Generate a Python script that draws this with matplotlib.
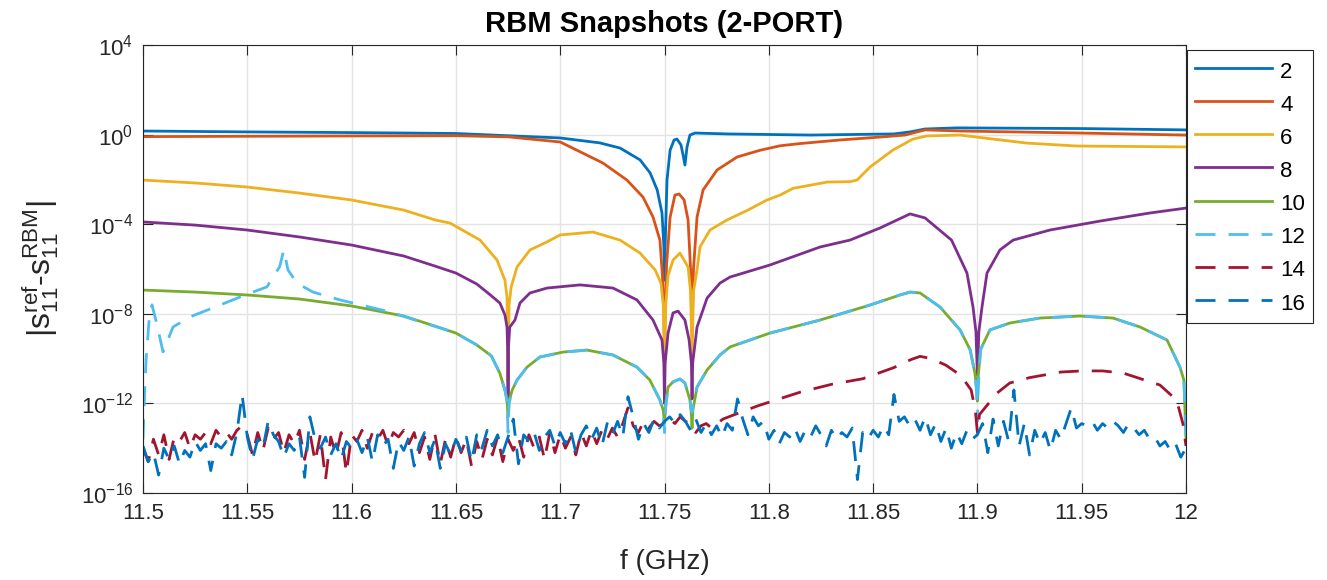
import numpy as np
import matplotlib
matplotlib.use("Agg")
import matplotlib.pyplot as plt
from matplotlib.ticker import NullLocator

plt.rcParams['font.family'] = ['Liberation Sans', 'DejaVu Sans']
plt.rcParams['mathtext.default'] = 'regular'
plt.rcParams['lines.scale_dashes'] = False

# ---------------------------------------------------------------- data
# frequencies in GHz, errors given as log10(|s11_ref - s11_RBM|)
f2 = [11.5, 11.55, 11.6, 11.65, 11.7, 11.719, 11.7287, 11.7383, 11.7431, 11.7465,
      11.7488, 11.7497, 11.75, 11.7503, 11.7512, 11.7527, 11.7546, 11.756, 11.7579,
      11.7589, 11.7598, 11.7608, 11.7622, 11.7646, 11.78, 11.82, 11.86, 11.8677,
      11.8749, 11.89, 11.95, 12.0]
e2 = [0.16, 0.12, 0.09, 0.05, -0.15, -0.37, -0.60, -1.13, -1.71, -2.47,
      -3.5, -5.0, -6.5, -5.0, -2.03, -0.69, -0.24, -0.20, -0.46,
      -0.91, -1.36, -0.55, -0.02, 0.07, 0.03, -0.02, 0.03, 0.12,
      0.25, 0.30, 0.27, 0.21]

f4 = [11.5, 11.6, 11.65, 11.675, 11.7, 11.7205, 11.732, 11.7397, 11.7445, 11.7478,
      11.749, 11.7497, 11.75, 11.7503, 11.751, 11.7527, 11.755, 11.757, 11.7594,
      11.7613, 11.7625, 11.7632, 11.7639, 11.7656, 11.7685, 11.7752, 11.7848,
      11.7958, 11.8054, 11.815, 11.8341, 11.8533, 11.8653, 11.8749, 11.8917,
      11.9492, 12.0]
e4 = [-0.09, -0.06, -0.05, -0.10, -0.33, -1.27, -2.03, -2.79, -3.68, -4.71,
      -6.3, -8.0, -9.5, -8.0, -5.8, -3.68, -2.70, -2.65, -2.92,
      -3.81, -6.0, -9.0, -6.0, -3.68, -2.47, -1.58, -1.0,
      -0.7, -0.5, -0.40, -0.24, -0.11, -0.02, 0.21, 0.16,
      0.07, -0.02]

f6 = [11.5, 11.525, 11.55, 11.575, 11.6, 11.625, 11.64, 11.6472, 11.6616, 11.6697,
      11.6735, 11.6745, 11.675, 11.6755, 11.6765, 11.6793, 11.6855, 11.6937, 11.7,
      11.7157, 11.7287, 11.7383, 11.7455, 11.7483, 11.7494, 11.75, 11.7506, 11.7517,
      11.7541, 11.7574, 11.7613, 11.7625, 11.7632, 11.7639, 11.7656, 11.767, 11.7718,
      11.78, 11.79, 11.7991, 11.8054, 11.8116, 11.8279, 11.8389, 11.8423, 11.8485,
      11.8595, 11.8691, 11.8758, 11.8917, 11.9075, 11.9238, 11.9478, 12.0]
e6 = [-2.03, -2.16, -2.34, -2.61, -2.92, -3.37, -3.81, -3.95, -4.71, -5.6,
      -6.5, -7.25, -11.0, -7.6, -6.8, -5.91, -5.15, -4.79, -4.48,
      -4.35, -4.71, -5.29, -6.04, -6.63, -7.6, -10.5, -7.6, -6.3,
      -5.6, -5.29, -5.91, -7.0, -10.0, -7.0, -6.04, -5.02, -4.26,
      -3.81, -3.37, -2.92, -2.70, -2.40, -2.12, -2.10, -2.03, -1.45,
      -0.69, -0.2, -0.06, -0.02, -0.2, -0.38, -0.51, -0.55]

f8 = [11.5, 11.525, 11.55, 11.575, 11.6, 11.625, 11.64, 11.65, 11.66, 11.666,
      11.6711, 11.6735, 11.6745, 11.6748, 11.675, 11.6752, 11.6758, 11.6783, 11.6807, 11.6855,
      11.6937, 11.7095, 11.7253, 11.7368, 11.7445, 11.7488, 11.7497, 11.75, 11.7503, 11.7517,
      11.7541, 11.7565, 11.7598, 11.7618, 11.7629, 11.7632, 11.7635, 11.7656, 11.7704, 11.7766,
      11.7814, 11.8006, 11.8245, 11.8389, 11.8533, 11.8677, 11.8749, 11.8876, 11.895, 11.8979,
      11.8993, 11.9, 11.9007, 11.9022, 11.9046, 11.9108, 11.9171, 11.9348, 11.9588, 11.9827,
      12.0]
e8 = [-3.90, -4.04, -4.26, -4.57, -4.93, -5.42, -5.87, -6.18, -6.67, -7.12,
      -7.52, -8.05, -8.59, -9.5, -12.0, -9.5, -8.6, -8.28, -7.52, -7.07,
      -6.85, -6.71, -6.85, -7.38, -8.28, -9.17, -10.2, -12.0, -10.2, -8.86,
      -7.96, -7.88, -8.28, -9.17, -10.2, -11.8, -10.2, -8.59, -7.30, -6.63,
      -6.36, -5.82, -5.02, -4.71, -4.17, -3.54, -3.72, -4.71, -6.18, -7.70,
      -8.8, -10.73, -8.8, -7.70, -6.18, -5.15, -4.71, -4.26, -3.86, -3.50,
      -3.28]

f10 = [11.5, 11.525, 11.55, 11.575, 11.6, 11.625, 11.64, 11.65, 11.66, 11.667,
       11.671, 11.6735, 11.6745, 11.675, 11.6755, 11.677, 11.6793, 11.6841, 11.6903, 11.7013,
       11.7128, 11.7253, 11.7368, 11.743, 11.7478, 11.7494, 11.75, 11.7506, 11.7517, 11.7541,
       11.7574, 11.7598, 11.7622, 11.7628, 11.7632, 11.7636, 11.7656, 11.7704, 11.7766, 11.7814,
       11.8006, 11.8245, 11.8485, 11.8629, 11.8677, 11.8725, 11.8821, 11.8917, 11.8965, 11.8988,
       11.8996, 11.9, 11.9004, 11.9015, 11.906, 11.9156, 11.93, 11.9492, 11.965, 11.978,
       11.9909, 11.9971, 11.999, 12.0]
e10 = [-6.94, -7.03, -7.16, -7.34, -7.65, -8.10, -8.55, -8.86, -9.39, -9.88,
       -10.64, -11.40, -11.85, -12.6, -11.9, -11.4, -10.96, -10.38, -9.93, -9.71,
       -9.62, -9.84, -10.38, -10.96, -11.85, -12.3, -12.9, -12.0, -11.27, -11.04,
       -10.91, -11.09, -11.85, -12.4, -13.1, -12.3, -11.27, -10.51, -9.84, -9.48,
       -8.86, -8.28, -7.61, -7.16, -7.03, -7.07, -7.70, -8.72, -9.6, -10.64,
       -11.3, -11.9, -10.8, -9.6, -8.72, -8.41, -8.19, -8.10, -8.19, -8.59,
       -9.17, -10.38, -10.96, -13.6]

f12 = [11.5, 11.5008, 11.5015, 11.503, 11.5043, 11.5065, 11.5096, 11.5144, 11.5225, 11.5369,
       11.5489, 11.5594, 11.5655, 11.5675, 11.5695, 11.5738, 11.5815, 11.5944, 11.6184, 11.6424,
       11.65, 11.66, 11.667, 11.671, 11.6735, 11.6745, 11.675, 11.6755, 11.677, 11.6793,
       11.6841, 11.6903, 11.7013, 11.7128, 11.7253, 11.7368, 11.743, 11.7478, 11.7494, 11.75,
       11.7506, 11.7517, 11.7541, 11.7574, 11.7598, 11.7622, 11.7628, 11.7632, 11.7636, 11.7656,
       11.7704, 11.7766, 11.7814, 11.8006, 11.8245, 11.8485, 11.8629, 11.8677, 11.8725, 11.8821,
       11.8917, 11.8965, 11.8988, 11.8996, 11.9, 11.9004, 11.9015, 11.906, 11.9156, 11.93,
       11.9492, 11.965, 11.978, 11.9909, 11.9971, 11.999, 12.0]
e12 = [-13.6, -11.5, -10.0, -8.2, -7.6, -8.41, -9.7, -8.59, -8.14, -7.61,
       -7.16, -6.8, -5.9, -5.15, -6.04, -6.63, -7.03, -7.38, -7.92, -8.63,
       -8.86, -9.39, -9.88, -10.64, -11.40, -11.9, -13.3, -12.0, -11.4, -10.96,
       -10.38, -9.93, -9.71, -9.62, -9.84, -10.38, -10.96, -11.85, -12.4, -13.3,
       -12.2, -11.27, -11.04, -10.91, -11.09, -11.85, -12.2, -12.4, -12.1, -11.27,
       -10.51, -9.84, -9.48, -8.86, -8.28, -7.61, -7.16, -7.03, -7.07, -7.70,
       -8.72, -9.6, -10.64, -11.5, -12.8, -11.3, -9.6, -8.72, -8.41, -8.19,
       -8.10, -8.19, -8.59, -9.17, -10.38, -10.96, -13.6]

# snapshot 14: noise floor sampled every 2.5 MHz up to 11.77 GHz, then smooth
f14_noise = 11.5 + 0.0025 * np.arange(109)
e14_noise = [-14.0, -14.6, -13.6, -14.3, -13.4, -14.5, -13.5, -13.7, -13.3, -14.0,
             -13.4, -13.6, -13.3, -13.8, -13.2, -13.5, -13.3, -13.6, -13.2, -13.0,
             -13.4, -14.3, -13.3, -14.1, -13.1, -13.6, -13.3, -14.2, -13.4, -13.8,
             -13.2, -14.5, -13.3, -14.6, -13.4, -15.4, -13.5, -14.3, -13.3, -15.1,
             -13.4, -13.7, -13.2, -14.0, -13.3, -13.6, -13.2, -13.9, -13.3, -13.5,
             -13.2, -13.8, -13.3, -14.2, -13.5, -14.5, -13.4, -14.7, -13.6, -14.4,
             -13.5, -14.2, -13.6, -14.8, -13.7, -14.5, -13.6, -14.3, -13.5, -14.6,
             -13.6, -14.1, -13.5, -14.4, -13.4, -14.0, -13.5, -14.5, -13.3, -14.2,
             -13.4, -14.0, -13.5, -14.3, -13.3, -13.9, -13.2, -13.8, -13.2, -13.6,
             -13.1, -13.5, -12.9, -12.2, -13.0, -13.3, -12.8, -13.1, -12.8, -13.0,
             -12.9, -12.7, -12.9, -12.6, -12.8, -12.9, -13.3, -13.0, -12.9]
f14_tail = [11.7725, 11.778, 11.785, 11.795, 11.805, 11.815, 11.83, 11.845, 11.86, 11.868,
            11.8725, 11.878, 11.885, 11.892, 11.897, 11.899, 11.9, 11.901, 11.9036, 11.9094,
            11.9155, 11.925, 11.94, 11.95, 11.96, 11.97, 11.9875, 11.9955, 11.9985, 12.0]
e14_tail = [-13.1, -12.7, -12.45, -12.1, -11.8, -11.5, -11.15, -10.9, -10.4, -10.05,
            -9.9, -10.0, -10.3, -10.75, -11.4, -12.3, -13.3, -12.5, -12.2, -11.54,
            -11.09, -10.85, -10.6, -10.55, -10.55, -10.65, -11.18, -11.85, -12.9, -13.9]

# snapshot 16: noise floor over the whole band, 2.5 MHz steps
f16 = np.linspace(11.5, 12.0, 201)
e16 = [-13.9, -14.6, -14.2, -15.2, -14.0, -14.5, -13.9, -14.7, -14.1, -14.4,
       -13.7, -14.1, -13.8, -15.0, -13.8, -14.0, -13.7, -14.3, -13.3, -11.6,
       -13.5, -14.5, -13.6, -14.0, -12.8, -13.4, -13.7, -14.4, -13.8, -14.1,
       -13.5, -15.3, -12.6, -13.6, -14.0, -13.5, -14.3, -13.8, -14.5, -13.7,
       -14.0, -13.6, -14.2, -13.5, -14.6, -13.4, -13.9, -13.6, -14.9, -13.7,
       -14.1, -13.5, -14.8, -13.8, -13.3, -14.2, -13.6, -14.9, -13.8, -14.3,
       -13.6, -14.1, -13.5, -14.6, -13.4, -14.0, -13.2, -13.9, -13.4, -14.2,
       -13.5, -12.7, -14.7, -13.4, -13.7, -13.3, -14.1, -13.5, -13.2, -13.9,
       -13.3, -13.8, -13.2, -14.2, -13.4, -13.0, -13.6, -13.1, -13.9, -12.9,
       -13.4, -12.8, -13.5, -11.7, -12.6, -13.6, -12.9, -13.3, -12.7, -13.1,
       -12.8, -12.6, -12.9, -12.5, -12.8, -13.2, -12.7, -13.3, -12.9, -13.4,
       -13.0, -13.5, -12.9, -13.2, -11.8, -12.7, -13.4, -12.6, -13.0, -12.8,
       -13.6, -13.2, -13.8, -13.3, -13.5, -13.1, -13.7, -13.2, -13.5, -13.0,
       -13.4, -13.9, -13.2, -13.6, -13.3, -13.5, -13.1, -15.4, -13.3, -13.6,
       -13.2, -13.5, -13.0, -13.4, -11.6, -12.8, -12.6, -13.0, -12.7, -13.2,
       -12.6, -13.4, -12.9, -13.7, -13.1, -14.0, -13.3, -13.8, -13.2, -13.6,
       -13.4, -12.9, -14.2, -12.7, -13.9, -12.8, -13.7, -11.4, -13.9, -12.9,
       -14.3, -13.2, -13.8, -13.3, -14.1, -13.2, -13.6, -12.9, -12.2, -13.1,
       -12.9, -13.0, -12.8, -13.2, -12.9, -13.1, -12.8, -13.0, -13.3, -12.9,
       -13.1, -13.4, -13.2, -13.6, -13.5, -13.9, -13.7, -14.1, -13.8, -14.4,
       -14.0]

labels = ['2', '4', '6', '8', '10', '12', '14', '16']
colors = ['#0072BD', '#D95319', '#EDB120', '#7E2F8E', '#77AC30', '#4DBEEE', '#A2142F', '#0072BD']
xticks = [11.5, 11.55, 11.6, 11.65, 11.7, 11.75, 11.8, 11.85, 11.9, 11.95, 12.0]
xtick_labels = ['11.5', '11.55', '11.6', '11.65', '11.7', '11.75', '11.8', '11.85', '11.9', '11.95', '12']

series = [
    (f2, e2), (f4, e4), (f6, e6), (f8, e8), (f10, e10), (f12, e12),
    (np.concatenate([f14_noise, f14_tail]), e14_noise + e14_tail),
    (f16, e16),
]

# ---------------------------------------------------------------- figure
W, H = 1327, 580
fig = plt.figure(figsize=(W / 100, H / 100), dpi=100)
ax = fig.add_axes([143 / W, 87 / H, 1043 / W, 448 / H])

LW = 2.0
DASH = (14.4, 9.4)
handles = []
for k, ((f, e), lab, c) in enumerate(zip(series, labels, colors)):
    y = 10.0 ** np.asarray(e, dtype=float)
    if k >= 5:
        ln, = ax.plot(f, y, color=c, lw=LW, dashes=DASH, label=lab)
    else:
        ln, = ax.plot(f, y, color=c, lw=LW, label=lab)
    handles.append(ln)

ax.set_yscale('log')
ax.set_xlim(11.5, 12.0)
ax.set_ylim(1e-16, 1e4)
ax.set_yticks([1e-16, 1e-12, 1e-8, 1e-4, 1e0, 1e4])
ax.yaxis.set_minor_locator(NullLocator())
ax.set_xticks(xticks)
ax.set_xticklabels(xtick_labels)

axc = '#262626'
ax.grid(True, color='#e3e3e3', linewidth=1.0)
ax.set_axisbelow(True)
ax.tick_params(direction='in', length=7, width=0.8, top=True, right=True,
               labelsize=16, colors=axc, pad=7)
for sp in ax.spines.values():
    sp.set_color(axc)
    sp.set_linewidth(0.8)

ax.set_title('RBM Snapshots (2-PORT)', fontsize=21, fontweight='bold', color='black', pad=9)
ax.set_xlabel('f (GHz)', fontsize=20, color=axc, labelpad=18)
ax.set_ylabel(r'$|s^{ref}_{11}$-$s^{RBM}_{11}|$', fontsize=23, color=axc, labelpad=14)

leg = ax.legend(handles=handles, labels=labels, loc='upper left',
                bbox_to_anchor=(1187 / W, 1 - 50 / H), bbox_transform=fig.transFigure,
                fontsize=16, handlelength=3.45, handletextpad=0.36, handleheight=1.31,
                borderpad=0.38, labelspacing=0.38, borderaxespad=0, fancybox=False,
                framealpha=1, edgecolor=axc)
leg.get_frame().set_linewidth(0.8)

fig.savefig('out.png', dpi=100)
